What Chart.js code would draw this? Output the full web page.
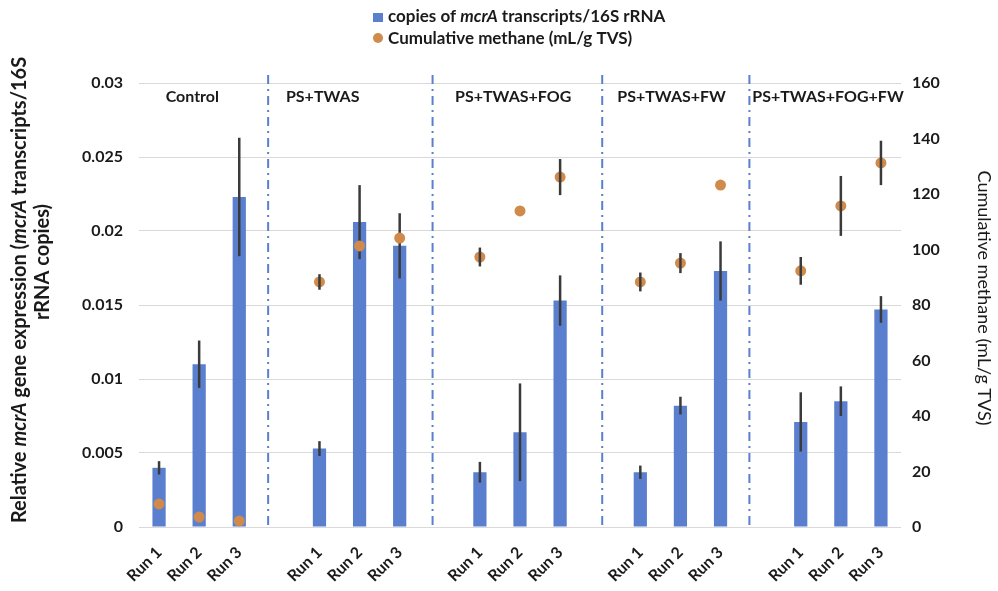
<!DOCTYPE html>
<html>
<head>
<meta charset="utf-8">
<script src="https://cdn.jsdelivr.net/npm/chart.js@4"></script>
<style>
  html, body { margin: 0; padding: 0; background: #fff; }
  #wrap { position: relative; width: 998px; height: 591px; }
</style>
</head>
<body>
<div id="wrap"><canvas id="grafico" width="998" height="591"></canvas></div>
<script>
// ==================== DATOS ====================
const grupos = ['Control', 'PS+TWAS', 'PS+TWAS+FOG', 'PS+TWAS+FW', 'PS+TWAS+FOG+FW'];
const corridas = ['Run 1', 'Run 2', 'Run 3'];

// copies of mcrA transcripts / 16S rRNA (eje izquierdo)
const mcrA = [0.0040, 0.0110, 0.0223,
              0.0053, 0.0206, 0.0190,
              0.0037, 0.0064, 0.0153,
              0.0037, 0.0082, 0.0173,
              0.0071, 0.0085, 0.0147];
const mcrAError = [0.00045, 0.0016, 0.0040,
                   0.0005, 0.0025, 0.0022,
                   0.0007, 0.0033, 0.0017,
                   0.00045, 0.0006, 0.0020,
                   0.0020, 0.0010, 0.0009];

// Cumulative methane mL/g TVS (eje derecho)
const metano = [8.3, 3.6, 2.2,
                88.3, 101.3, 104.1,
                97.3, 113.9, 126.1,
                88.3, 95.1, 123.2,
                92.3, 115.7, 131.2];
const metanoError = [0, 0, 0,
                     2.8, 0, 0,
                     3.4, 0, 6.5,
                     3.4, 3.6, 0,
                     5.0, 10.8, 8.0];

const ticksIzq = [0, 0.005, 0.01, 0.015, 0.02, 0.025, 0.03];
const ticksDer = [0, 20, 40, 60, 80, 100, 120, 140, 160];

// posiciones (en unidades de categoría) de separadores y etiquetas de grupo
const separadores = [2.72, 6.82, 11.05, 14.72];
const posEtiquetas = [0.83, 4.08, 8.83, 12.78, 16.68];

// ==================== CONSTRUIR CATEGORÍAS ====================
const etiquetas = [];
const datosBarras = [];
const datosPuntos = [];
const errBarras = [];
const errPuntos = [];
grupos.forEach((g, gi) => {
    corridas.forEach((r, ri) => {
        const k = gi * 3 + ri;
        etiquetas.push(r);
        datosBarras.push(mcrA[k]);
        datosPuntos.push(metano[k]);
        errBarras.push(mcrAError[k]);
        errPuntos.push(metanoError[k]);
    });
    if (gi < grupos.length - 1) {
        etiquetas.push('');
        datosBarras.push(null);
        datosPuntos.push(null);
        errBarras.push(null);
        errPuntos.push(null);
    }
});

const FUENTE = 'Lato, "Open Sans", sans-serif';
const AZUL = '#5b7fcf';
const NARANJA = '#cf8a4c';
const TEXTO = '#1a1a1a';

// ==================== TEXTO CON CURSIVA ====================
function anchoRico(ctx, partes, tam, peso) {
    let w = 0;
    partes.forEach(p => {
        ctx.font = (p.it ? 'italic ' : '') + peso + ' ' + tam + 'px ' + FUENTE;
        w += ctx.measureText(p.t).width;
    });
    return w;
}
function textoRico(ctx, partes, x, y, tam, peso, alinear) {
    let w = anchoRico(ctx, partes, tam, peso);
    let cx = alinear === 'center' ? x - w / 2 : x;
    ctx.textAlign = 'left';
    ctx.textBaseline = 'middle';
    partes.forEach(p => {
        ctx.font = (p.it ? 'italic ' : '') + peso + ' ' + tam + 'px ' + FUENTE;
        ctx.fillText(p.t, cx, y);
        cx += ctx.measureText(p.t).width;
    });
}

// ==================== PLUGINS ====================
const pluginErrores = {
    id: 'errores',
    afterDatasetDraw(chart, args) {
        const ctx = chart.ctx;
        const ds = chart.data.datasets[args.index];
        const errs = args.index === 0 ? errBarras : errPuntos;
        const escala = chart.scales[ds.yAxisID];
        ctx.save();
        ctx.strokeStyle = '#3a3a3a';
        ctx.lineWidth = 2.5;
        args.meta.data.forEach((el, i) => {
            const v = ds.data[i];
            const e = errs[i];
            if (v === null || !e) return;
            ctx.beginPath();
            ctx.moveTo(el.x, escala.getPixelForValue(v + e));
            ctx.lineTo(el.x, escala.getPixelForValue(v - e));
            ctx.stroke();
        });
        ctx.restore();
    }
};

const pluginDecoracion = {
    id: 'decoracion',
    beforeDatasetsDraw(chart) {
        const ctx = chart.ctx;
        const x = chart.scales.x;
        const area = chart.chartArea;
        ctx.save();
        ctx.strokeStyle = AZUL;
        ctx.lineWidth = 2;
        ctx.setLineDash([9, 5, 2, 5]);
        separadores.forEach(s => {
            const px = x.getPixelForValue(s);
            ctx.beginPath();
            ctx.moveTo(px, area.top - 8);
            ctx.lineTo(px, area.bottom);
            ctx.stroke();
        });
        ctx.restore();
    },
    afterDraw(chart) {
        const ctx = chart.ctx;
        const x = chart.scales.x;
        const area = chart.chartArea;
        ctx.save();
        ctx.fillStyle = TEXTO;

        // etiquetas de grupo
        grupos.forEach((g, i) => {
            textoRico(ctx, [{ t: g }], x.getPixelForValue(posEtiquetas[i]), area.top + 14, 16, 'bold', 'center');
        });

        // leyenda
        const lx = 373;
        ctx.fillStyle = AZUL;
        ctx.fillRect(lx, 13, 10, 9);
        ctx.fillStyle = NARANJA;
        ctx.beginPath();
        ctx.arc(lx + 5, 38, 5, 0, Math.PI * 2);
        ctx.fill();
        ctx.fillStyle = TEXTO;
        textoRico(ctx, [{ t: 'copies of ' }, { t: 'mcrA', it: true }, { t: ' transcripts/16S rRNA' }], lx + 15, 17, 17, 'bold', 'left');
        textoRico(ctx, [{ t: 'Cumulative methane (mL/g TVS)' }], lx + 15, 39, 17, 'bold', 'left');

        // título eje izquierdo
        ctx.save();
        ctx.translate(20, 290);
        ctx.rotate(-Math.PI / 2);
        textoRico(ctx, [{ t: 'Relative ' }, { t: 'mcrA', it: true }, { t: ' gene expression (' }, { t: 'mcrA', it: true }, { t: ' transcripts/16S' }], 0, 0, 20, 'bold', 'center');
        textoRico(ctx, [{ t: 'rRNA copies)' }], 28, 23, 20, 'bold', 'center');
        ctx.restore();

        // título eje derecho
        ctx.save();
        ctx.translate(984, 298);
        ctx.rotate(Math.PI / 2);
        textoRico(ctx, [{ t: 'Cumulative methane (mL/g TVS)' }], 0, 0, 18, 'normal', 'center');
        ctx.restore();

        ctx.restore();
    }
};

// ==================== GRÁFICO ====================
const fuenteTicks = { family: FUENTE, size: 16, weight: 'bold' };

new Chart(document.getElementById('grafico'), {
    type: 'bar',
    data: {
        labels: etiquetas,
        datasets: [{
            label: 'copies of mcrA transcripts/16S rRNA',
            data: datosBarras,
            backgroundColor: AZUL,
            yAxisID: 'y',
            categoryPercentage: 1,
            barPercentage: 0.33,
            order: 2
        }, {
            type: 'line',
            label: 'Cumulative methane (mL/g TVS)',
            data: datosPuntos,
            showLine: false,
            pointRadius: 5.5,
            pointBackgroundColor: NARANJA,
            pointBorderWidth: 0,
            yAxisID: 'y1',
            order: 1
        }]
    },
    options: {
        responsive: false,
        animation: false,
        layout: { padding: { top: 83, left: 0, right: 0, bottom: 0 } },
        plugins: {
            legend: { display: false },
            tooltip: { enabled: false }
        },
        scales: {
            x: {
                grid: { display: false },
                border: { display: false },
                ticks: {
                    font: fuenteTicks,
                    color: TEXTO,
                    maxRotation: 45,
                    minRotation: 45,
                    autoSkip: false,
                    padding: 8
                },
                afterFit(s) { s.height = 64; }
            },
            y: {
                position: 'left',
                min: 0,
                max: 0.03,
                afterBuildTicks(s) { s.ticks = ticksIzq.map(v => ({ value: v })); },
                grid: { color: '#d9d9d9', drawTicks: false },
                border: { display: false },
                ticks: {
                    font: fuenteTicks,
                    color: TEXTO,
                    padding: 16,
                    callback: v => String(+v.toFixed(3))
                },
                afterFit(s) { s.width = 139; }
            },
            y1: {
                position: 'right',
                min: 0,
                max: 160,
                afterBuildTicks(s) { s.ticks = ticksDer.map(v => ({ value: v })); },
                grid: { drawOnChartArea: false, drawTicks: false },
                border: { display: false },
                ticks: {
                    font: fuenteTicks,
                    color: TEXTO,
                    padding: 11
                },
                afterFit(s) { s.width = 97; }
            }
        }
    },
    plugins: [pluginErrores, pluginDecoracion]
});
</script>
</body>
</html>
